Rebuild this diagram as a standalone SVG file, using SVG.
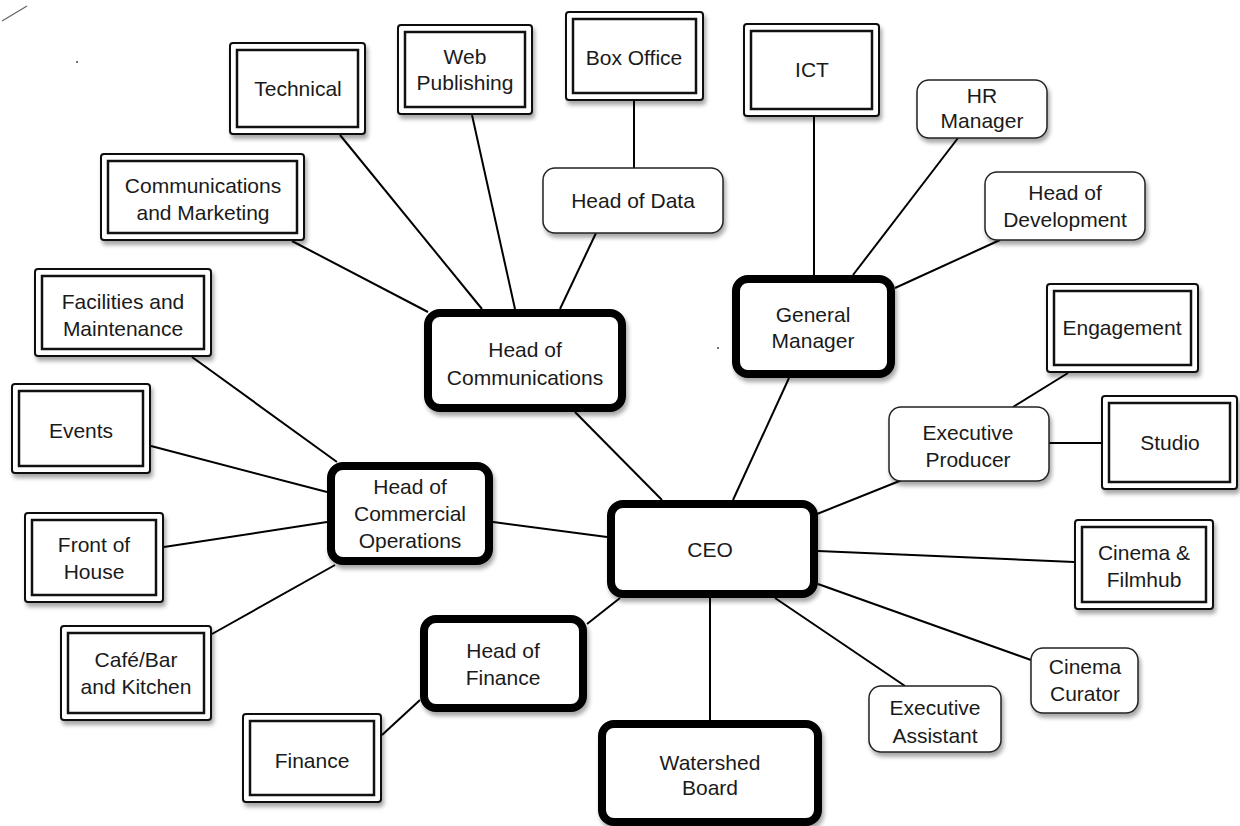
<svg xmlns="http://www.w3.org/2000/svg" width="1240" height="826" viewBox="0 0 1240 826">
<defs>
<filter id="sh" x="-10%" y="-10%" width="125%" height="135%">
<feDropShadow dx="2" dy="4" stdDeviation="2.2" flood-color="#000" flood-opacity="0.35"/>
</filter>
<style>
.o{fill:#fff;stroke:#111;stroke-width:2}
.i{fill:#fff;stroke:#111;stroke-width:2.5}
.t{fill:#fff;stroke:#222;stroke-width:1.5}
.k{fill:#fff;stroke:#000;stroke-width:8}
text{font-family:"Liberation Sans",Arial,sans-serif;font-size:21px;fill:#1a1a1a;text-anchor:middle}
.c line{stroke:#000;stroke-width:2}
</style>
</defs>
<rect width="1240" height="826" fill="#fff"/>
<line x1="2" y1="21" x2="27" y2="6" stroke="#666" stroke-width="1.3"/>
<circle cx="77" cy="62" r="1" fill="#444"/>
<circle cx="718" cy="348" r="1" fill="#444"/>
<g class="c" id="connectors">
<line x1="340" y1="135" x2="482" y2="309"/>
<line x1="472" y1="115" x2="515" y2="309"/>
<line x1="596" y1="233" x2="560" y2="309"/>
<line x1="634" y1="101" x2="634" y2="168"/>
<line x1="292" y1="241" x2="428" y2="312"/>
<line x1="575" y1="412" x2="662" y2="500"/>
<line x1="814" y1="117" x2="814" y2="275"/>
<line x1="958" y1="138" x2="853" y2="275"/>
<line x1="1000" y1="240" x2="895" y2="288"/>
<line x1="789" y1="378" x2="733" y2="500"/>
<line x1="1068" y1="373" x2="1013" y2="407"/>
<line x1="1101" y1="443" x2="1049" y2="443"/>
<line x1="902" y1="480" x2="812" y2="516"/>
<line x1="1074" y1="562" x2="818" y2="551"/>
<line x1="1031" y1="660" x2="818" y2="584"/>
<line x1="905" y1="686" x2="775" y2="598"/>
<line x1="710" y1="598" x2="710" y2="720"/>
<line x1="587" y1="624" x2="620" y2="598"/>
<line x1="382" y1="735" x2="420" y2="700"/>
<line x1="493" y1="522" x2="607" y2="537"/>
<line x1="192" y1="357" x2="337" y2="462"/>
<line x1="151" y1="446" x2="327" y2="492"/>
<line x1="164" y1="547" x2="327" y2="522"/>
<line x1="212" y1="634" x2="335" y2="565"/>
</g>
<g id="technical"><g filter="url(#sh)"><rect class="o" x="230" y="43" width="135" height="91" rx="3"/></g><rect class="i" x="237" y="50" width="121" height="77"/><text x="298" y="96">Technical</text></g>
<g id="web-publishing"><g filter="url(#sh)"><rect class="o" x="398" y="25" width="134" height="89" rx="3"/></g><rect class="i" x="405" y="32" width="120" height="75"/><text x="465" y="64">Web</text><text x="465" y="90">Publishing</text></g>
<g id="box-office"><g filter="url(#sh)"><rect class="o" x="566" y="12" width="137" height="88" rx="3"/></g><rect class="i" x="573" y="19" width="123" height="74"/><text x="634" y="65">Box Office</text></g>
<g id="ict"><g filter="url(#sh)"><rect class="o" x="744" y="24" width="135" height="92" rx="3"/></g><rect class="i" x="751" y="31" width="121" height="78"/><text x="812" y="77">ICT</text></g>
<g id="comms-marketing"><g filter="url(#sh)"><rect class="o" x="101" y="154" width="203" height="86" rx="3"/></g><rect class="i" x="108" y="161" width="189" height="72"/><text x="203" y="193">Communications</text><text x="203" y="220">and Marketing</text></g>
<g id="facilities"><g filter="url(#sh)"><rect class="o" x="35" y="269" width="176" height="87" rx="3"/></g><rect class="i" x="42" y="276" width="162" height="73"/><text x="123" y="309">Facilities and</text><text x="123" y="336">Maintenance</text></g>
<g id="events"><g filter="url(#sh)"><rect class="o" x="12" y="384" width="138" height="89" rx="3"/></g><rect class="i" x="19" y="391" width="124" height="75"/><text x="81" y="438">Events</text></g>
<g id="front-of-house"><g filter="url(#sh)"><rect class="o" x="25" y="513" width="138" height="89" rx="3"/></g><rect class="i" x="32" y="520" width="124" height="75"/><text x="94" y="552">Front of</text><text x="94" y="579">House</text></g>
<g id="cafe-bar"><g filter="url(#sh)"><rect class="o" x="61" y="626" width="150" height="94" rx="3"/></g><rect class="i" x="68" y="633" width="136" height="80"/><text x="136" y="667">Café/Bar</text><text x="136" y="694">and Kitchen</text></g>
<g id="finance"><g filter="url(#sh)"><rect class="o" x="243" y="714" width="138" height="88" rx="3"/></g><rect class="i" x="250" y="721" width="124" height="74"/><text x="312" y="768">Finance</text></g>
<g id="engagement"><g filter="url(#sh)"><rect class="o" x="1047" y="284" width="151" height="88" rx="3"/></g><rect class="i" x="1054" y="291" width="137" height="74"/><text x="1122" y="335">Engagement</text></g>
<g id="studio"><g filter="url(#sh)"><rect class="o" x="1102" y="396" width="135" height="93" rx="3"/></g><rect class="i" x="1109" y="403" width="121" height="79"/><text x="1170" y="450">Studio</text></g>
<g id="cinema-filmhub"><g filter="url(#sh)"><rect class="o" x="1075" y="520" width="138" height="89" rx="3"/></g><rect class="i" x="1082" y="527" width="124" height="75"/><text x="1144" y="560">Cinema &amp;</text><text x="1144" y="587">Filmhub</text></g>
<g id="head-of-data"><rect class="t" x="543" y="168" width="180" height="65" rx="12" filter="url(#sh)"/><text x="633" y="208">Head of Data</text></g>
<g id="hr-manager"><rect class="t" x="917" y="80" width="130" height="58" rx="12" filter="url(#sh)"/><text x="982" y="103">HR</text><text x="982" y="128">Manager</text></g>
<g id="head-of-development"><rect class="t" x="985" y="172" width="160" height="68" rx="12" filter="url(#sh)"/><text x="1065" y="200">Head of</text><text x="1065" y="227">Development</text></g>
<g id="executive-producer"><rect class="t" x="889" y="407" width="160" height="74" rx="12" filter="url(#sh)"/><text x="968" y="440">Executive</text><text x="968" y="467">Producer</text></g>
<g id="cinema-curator"><rect class="t" x="1031" y="648" width="107" height="65" rx="12" filter="url(#sh)"/><text x="1085" y="674">Cinema</text><text x="1085" y="701">Curator</text></g>
<g id="executive-assistant"><rect class="t" x="869" y="686" width="132" height="66" rx="12" filter="url(#sh)"/><text x="935" y="715">Executive</text><text x="935" y="743">Assistant</text></g>
<g id="head-of-communications"><rect class="k" x="428" y="313" width="194" height="95" rx="12" filter="url(#sh)"/><text x="525" y="357">Head of</text><text x="525" y="385">Communications</text></g>
<g id="general-manager"><rect class="k" x="736" y="279" width="155" height="95" rx="12" filter="url(#sh)"/><text x="813" y="322">General</text><text x="813" y="348">Manager</text></g>
<g id="head-of-commercial-operations"><rect class="k" x="331" y="466" width="158" height="95" rx="12" filter="url(#sh)"/><text x="410" y="494">Head of</text><text x="410" y="521">Commercial</text><text x="410" y="548">Operations</text></g>
<g id="ceo"><rect class="k" x="611" y="504" width="203" height="90" rx="12" filter="url(#sh)"/><text x="710" y="557">CEO</text></g>
<g id="head-of-finance"><rect class="k" x="424" y="619" width="159" height="89" rx="12" filter="url(#sh)"/><text x="503" y="658">Head of</text><text x="503" y="685">Finance</text></g>
<g id="watershed-board"><rect class="k" x="602" y="724" width="216" height="98" rx="12" filter="url(#sh)"/><text x="710" y="770">Watershed</text><text x="710" y="795">Board</text></g>
</svg>
